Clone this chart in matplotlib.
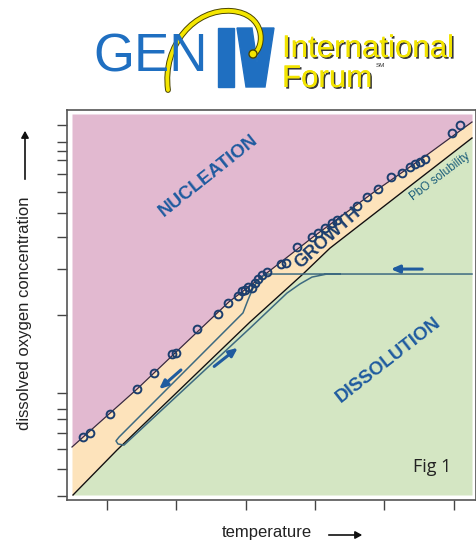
import matplotlib.pyplot as plt
import matplotlib.patheffects as pe
from matplotlib.patches import Polygon, Circle, PathPatch, FancyArrowPatch
from matplotlib.path import Path
import numpy as np

plt.rcParams['font.family'] = ['Liberation Sans', 'DejaVu Sans']

# phase boundaries (arbitrary units: temperature 0-100, log O2 0-100)
upper_x = [0, 16.25, 39.25, 48.75, 60.25, 76.25, 87.75, 100]
upper_y = [12.6, 27.8, 50.7, 58.3, 67.7, 80.1, 88.5, 97.9]
sol_x = [0.25, 11.25, 44.5, 57.75, 64.5, 100]
sol_y = [0, 11.8, 45.4, 58.0, 64.8, 93.7]

# measured oxygen points along the nucleation limit
pts_x = [2.75, 4.5, 9.5, 16.25, 20.5, 25.0, 26.0, 31.25, 36.5, 39.0, 41.5, 42.5,
         43.25, 44.0, 45.0, 45.75, 46.5, 47.5, 48.75, 52.25, 53.5, 56.25, 60.0,
         61.5, 63.25, 65.0, 66.25, 71.25, 73.75, 76.5, 79.75, 82.5, 84.5, 85.75,
         87.0, 88.25, 95.0, 97.0]
pts_y = [15.2, 16.3, 21.3, 27.8, 32.0, 37.0, 37.3, 43.6, 47.5, 50.4, 52.2, 53.5,
         53.8, 54.6, 54.3, 55.6, 56.7, 57.7, 58.5, 60.6, 60.9, 65.1, 67.7,
         68.8, 70.1, 71.4, 72.2, 75.9, 78.2, 80.3, 83.5, 84.5, 86.1, 86.9,
         87.4, 88.2, 95.0, 97.1]

# cooling / heating loop
loop_x = [100, 48.25, 46.5, 45.25, 44.0, 42.75, 11.75, 11.0, 11.5, 13.0, 44.5,
          53.75, 57.0, 60.0, 63.75, 67.0]
loop_y = [58.0, 58.0, 56.4, 54.3, 51.2, 47.8, 15.2, 14.2, 13.4, 13.1, 43.8,
          53.0, 55.4, 57.2, 58.0, 58.0]

xticks = [8.75, 26, 43.5, 60.75, 78, 95.5]
yticks = [97.1, 92.7, 90.3, 87.9, 84.3, 79.5, 74.0, 67.7, 59.3, 47.2, 26.8,
          22.6, 20.0, 16.3, 12.1, 6.8, -0.3]

pink, beige, green = '#e2b9d0', '#fde3bb', '#d4e6c3'
blue, navy, teal = '#1f5b9f', '#1c3e6e', '#3d6a80'

fig = plt.figure(figsize=(4.77, 5.42), dpi=100)
ax = fig.add_axes([67 / 477, 42 / 542, 409 / 477, 390 / 542])
ax.set_xlim(-1.25, 101)
ax.set_ylim(-1.31, 101.05)

xs = np.linspace(0, 100, 401)
up = np.interp(xs, upper_x, upper_y)
lo = np.interp(xs, sol_x, sol_y, left=0)
ax.fill_between(xs, up, 100, color=pink, lw=0)
ax.fill_between(xs, lo, up, color=beige, lw=0)
ax.fill_between(xs, 0, lo, color=green, lw=0)

ax.plot(upper_x, upper_y, color='#3a2c3c', lw=0.9)
ax.plot(sol_x, sol_y, color='#111111', lw=1.0)
ax.plot(loop_x, loop_y, color=teal, lw=1.1)
ax.plot(pts_x, pts_y, 'o', ms=5.6, mfc='none', mec=navy, mew=1.4)

arrow = dict(arrowstyle='-|>,head_length=0.5,head_width=0.22', color=blue, lw=2.2)
ax.annotate('', xy=(79, 59.3), xytext=(88.25, 59.3), arrowprops=arrow)
ax.annotate('', xy=(21.25, 27.3), xytext=(27.75, 33.3), arrowprops=arrow)
ax.annotate('', xy=(42, 39.1), xytext=(35, 33.3), arrowprops=arrow)

ax.text(34, 83.7, 'NUCLEATION', rotation=38.5, color=blue, fontsize=13.5,
        fontweight='bold', ha='center', va='center')
ax.text(79, 35.4, 'DISSOLUTION', rotation=38, color=blue, fontsize=13.5,
        fontweight='bold', ha='center', va='center')
ax.text(64, 67.5, 'GROWTH', rotation=42, color=navy, fontsize=13,
        fontweight='bold', ha='center', va='center')
ax.text(92, 83.7, 'PbO solubility', rotation=37, color='#1b5e7a', fontsize=8.5,
        ha='center', va='center')
ax.text(90, 7.3, 'Fig 1', color='#222222', fontsize=13, family=['Open Sans'],
        ha='center', va='center')

ax.set_xticks(xticks)
ax.set_yticks(yticks)
ax.set_xticklabels([])
ax.set_yticklabels([])
ax.tick_params(direction='out', length=7, width=1, color='#444444')
for s in ax.spines.values():
    s.set_color('#555555')
    s.set_linewidth(1.2)

# axis labels with arrows
fig.text(25 / 477, 1 - 313 / 542, 'dissolved oxygen concentration', rotation=90,
         fontsize=12, ha='center', va='center', color='#222222')
fig.patches.append(FancyArrowPatch(
    (25 / 477, 1 - 182 / 542), (25 / 477, 1 - 128 / 542), transform=fig.transFigure,
    arrowstyle='-|>,head_length=4,head_width=2.2', color='#111111', lw=1.2))
fig.text(267 / 477, 1 - 532 / 542, 'temperature', fontsize=12, ha='center',
         va='center', color='#222222')
fig.patches.append(FancyArrowPatch(
    (326 / 477, 1 - 535 / 542), (365 / 477, 1 - 535 / 542), transform=fig.transFigure,
    arrowstyle='-|>,head_length=4,head_width=2.2', color='#111111', lw=1.2))

# GEN IV International Forum logo
lg = fig.add_axes([0, 1 - 95 / 542, 1, 95 / 542])
lg.set_xlim(0, 477)
lg.set_ylim(95, 0)
lg.axis('off')
logo_blue = '#1f6fc1'
lg.text(93, 72, 'GEN', fontsize=38, color=logo_blue, va='baseline', ha='left')
lg.add_patch(Polygon([(218, 28), (234, 28), (234, 87), (218, 87)], color=logo_blue))
lg.add_patch(Polygon([(237, 28), (252, 28), (257, 62), (262, 28), (274, 28),
                      (265, 87), (246, 87)], color=logo_blue))
swoosh = Path([(168, 90), (162, 45), (195, 8), (232, 11),
               (265, 14), (266, 46), (253, 55)],
              [Path.MOVETO, Path.CURVE4, Path.CURVE4, Path.CURVE4,
               Path.CURVE4, Path.CURVE4, Path.CURVE4])
lg.add_patch(PathPatch(swoosh, fc='none', ec='#4a4400', lw=4.2, capstyle='round'))
lg.add_patch(PathPatch(swoosh, fc='none', ec='#f4e600', lw=2.8, capstyle='round'))
lg.add_patch(Circle((253, 54), 4, fc='#f4e600', ec='#4a4400', lw=1))
yellow_fx = [pe.withSimplePatchShadow(offset=(1.2, -1.2), shadow_rgbFace='#222222',
                                      alpha=0.9), pe.Normal()]
lg.text(282, 57, 'International', fontsize=22.5, color='#f2e400', va='baseline',
        path_effects=yellow_fx)
lg.text(282, 87, 'Forum', fontsize=22.5, color='#f2e400', va='baseline',
        path_effects=yellow_fx)
lg.text(376, 67, 'SM', fontsize=4.5, color='#333333', va='baseline')

fig.savefig('out.png', dpi=100)
